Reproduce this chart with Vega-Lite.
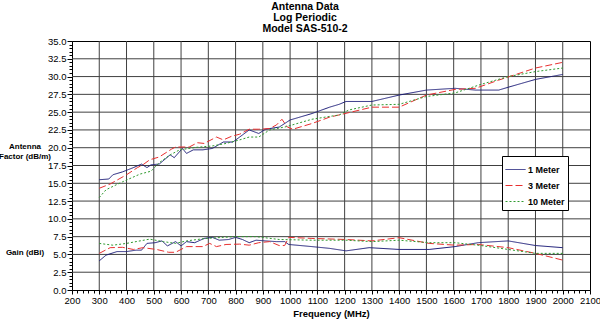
{
  "$schema": "https://vega.github.io/schema/vega-lite/v6.json",
  "width": 518,
  "height": 249,
  "autosize": {"type": "none"},
  "padding": {"left": 72, "top": 41, "right": 10, "bottom": 30},
  "background": "white",
  "title": {
    "text": ["Antenna Data", "Log Periodic", "Model SAS-510-2"],
    "font": "Liberation Sans",
    "fontSize": 10.5,
    "fontWeight": "bold",
    "color": "black",
    "lineHeight": 11,
    "anchor": "middle",
    "dx": -26,
    "offset": 2
  },
  "config": {
    "font": "Liberation Sans",
    "view": {"stroke": "black", "strokeWidth": 1},
    "axis": {
      "labelFont": "Liberation Sans",
      "labelFontSize": 9.5,
      "labelColor": "black",
      "domainColor": "black",
      "tickColor": "black",
      "titleFont": "Liberation Sans",
      "titleFontSize": 9.5,
      "titleFontWeight": "bold",
      "titleColor": "black"
    },
    "legend": {
      "orient": "none",
      "legendX": 430,
      "legendY": 115,
      "padding": 3,
      "strokeColor": "black",
      "fillColor": "white",
      "symbolType": "stroke",
      "symbolSize": 400,
      "symbolStrokeWidth": 1,
      "rowPadding": -6,
      "labelFont": "Liberation Sans",
      "labelFontSize": 9,
      "labelFontWeight": "bold",
      "labelColor": "black",
      "labelOffset": 2
    }
  },
  "layer": [
    {
      "description": "Vertical grid lines at every 100 MHz, spanning the full 0 to 35 range.",
      "data": {
        "values": [
          {"f": 300}, {"f": 400}, {"f": 500}, {"f": 600}, {"f": 700}, {"f": 800},
          {"f": 900}, {"f": 1000}, {"f": 1100}, {"f": 1200}, {"f": 1300}, {"f": 1400},
          {"f": 1500}, {"f": 1600}, {"f": 1700}, {"f": 1800}, {"f": 1900}, {"f": 2000}
        ]
      },
      "mark": {"type": "rule", "color": "#404040", "strokeWidth": 1},
      "encoding": {
        "x": {
          "field": "f",
          "type": "quantitative",
          "scale": {"domain": [200, 2100], "nice": false, "zero": false},
          "axis": {
            "title": "Frequency (MHz)",
            "values": [200,220,240,260,280,300,320,340,360,380,400,420,440,460,480,500,520,540,560,580,600,620,640,660,680,700,720,740,760,780,800,820,840,860,880,900,920,940,960,980,1000,1020,1040,1060,1080,1100,1120,1140,1160,1180,1200,1220,1240,1260,1280,1300,1320,1340,1360,1380,1400,1420,1440,1460,1480,1500,1520,1540,1560,1580,1600,1620,1640,1660,1680,1700,1720,1740,1760,1780,1800,1820,1840,1860,1880,1900,1920,1940,1960,1980,2000,2020,2040,2060,2080,2100],
            "labelExpr": "datum.value % 100 === 0 ? datum.value : ''",
            "labelPadding": 1,
            "labelFlush": false,
            "labelOverlap": false,
            "tickSize": {"condition": {"test": "datum.value % 100 === 0", "value": 4}, "value": 3},
            "grid": false,
            "titlePadding": 4
          }
        },
        "y": {
          "datum": 0,
          "type": "quantitative",
          "scale": {"domain": [0, 35], "nice": false},
          "axis": {
            "title": null,
            "values": [0,0.5,1,1.5,2,2.5,3,3.5,4,4.5,5,5.5,6,6.5,7,7.5,8,8.5,9,9.5,10,10.5,11,11.5,12,12.5,13,13.5,14,14.5,15,15.5,16,16.5,17,17.5,18,18.5,19,19.5,20,20.5,21,21.5,22,22.5,23,23.5,24,24.5,25,25.5,26,26.5,27,27.5,28,28.5,29,29.5,30,30.5,31,31.5,32,32.5,33,33.5,34,34.5,35],
            "labelExpr": "datum.value % 2.5 === 0 ? format(datum.value, '.1f') : ''",
            "labelPadding": 1,
            "labelFlush": false,
            "labelOverlap": false,
            "tickSize": {"condition": {"test": "datum.value % 2.5 === 0", "value": 5}, "value": 3},
            "grid": false
          }
        },
        "y2": {"datum": 35}
      }
    },
    {
      "description": "Horizontal grid lines at every 2.5 units, spanning 200 to 2100 MHz.",
      "data": {
        "values": [
          {"v": 2.5}, {"v": 5}, {"v": 7.5}, {"v": 10}, {"v": 12.5}, {"v": 15}, {"v": 17.5},
          {"v": 20}, {"v": 22.5}, {"v": 25}, {"v": 27.5}, {"v": 30}, {"v": 32.5}
        ]
      },
      "mark": {"type": "rule", "color": "#404040", "strokeWidth": 1},
      "encoding": {
        "x": {
          "datum": 200,
          "type": "quantitative",
          "scale": {"domain": [200, 2100], "nice": false, "zero": false},
          "axis": {
            "title": "Frequency (MHz)",
            "values": [200,220,240,260,280,300,320,340,360,380,400,420,440,460,480,500,520,540,560,580,600,620,640,660,680,700,720,740,760,780,800,820,840,860,880,900,920,940,960,980,1000,1020,1040,1060,1080,1100,1120,1140,1160,1180,1200,1220,1240,1260,1280,1300,1320,1340,1360,1380,1400,1420,1440,1460,1480,1500,1520,1540,1560,1580,1600,1620,1640,1660,1680,1700,1720,1740,1760,1780,1800,1820,1840,1860,1880,1900,1920,1940,1960,1980,2000,2020,2040,2060,2080,2100],
            "labelExpr": "datum.value % 100 === 0 ? datum.value : ''",
            "labelPadding": 1,
            "labelFlush": false,
            "labelOverlap": false,
            "tickSize": {"condition": {"test": "datum.value % 100 === 0", "value": 4}, "value": 3},
            "grid": false,
            "titlePadding": 4
          }
        },
        "x2": {"datum": 2100},
        "y": {
          "field": "v",
          "type": "quantitative",
          "scale": {"domain": [0, 35], "nice": false},
          "axis": {
            "title": null,
            "values": [0,0.5,1,1.5,2,2.5,3,3.5,4,4.5,5,5.5,6,6.5,7,7.5,8,8.5,9,9.5,10,10.5,11,11.5,12,12.5,13,13.5,14,14.5,15,15.5,16,16.5,17,17.5,18,18.5,19,19.5,20,20.5,21,21.5,22,22.5,23,23.5,24,24.5,25,25.5,26,26.5,27,27.5,28,28.5,29,29.5,30,30.5,31,31.5,32,32.5,33,33.5,34,34.5,35],
            "labelExpr": "datum.value % 2.5 === 0 ? format(datum.value, '.1f') : ''",
            "labelPadding": 1,
            "labelFlush": false,
            "labelOverlap": false,
            "tickSize": {"condition": {"test": "datum.value % 2.5 === 0", "value": 5}, "value": 3},
            "grid": false
          }
        }
      }
    },
    {
      "data": {
        "values": [
          {"s": "1 Meter", "q": "af", "f": 300, "v": 15.5},
          {"s": "1 Meter", "q": "af", "f": 335, "v": 15.6},
          {"s": "1 Meter", "q": "af", "f": 350, "v": 16.2},
          {"s": "1 Meter", "q": "af", "f": 385, "v": 16.6},
          {"s": "1 Meter", "q": "af", "f": 425, "v": 17.2},
          {"s": "1 Meter", "q": "af", "f": 455, "v": 17.7},
          {"s": "1 Meter", "q": "af", "f": 475, "v": 17.2},
          {"s": "1 Meter", "q": "af", "f": 490, "v": 17.6},
          {"s": "1 Meter", "q": "af", "f": 520, "v": 17.7},
          {"s": "1 Meter", "q": "af", "f": 560, "v": 19.0},
          {"s": "1 Meter", "q": "af", "f": 575, "v": 18.6},
          {"s": "1 Meter", "q": "af", "f": 605, "v": 19.9},
          {"s": "1 Meter", "q": "af", "f": 620, "v": 19.2},
          {"s": "1 Meter", "q": "af", "f": 645, "v": 19.7},
          {"s": "1 Meter", "q": "af", "f": 680, "v": 19.7},
          {"s": "1 Meter", "q": "af", "f": 715, "v": 19.9},
          {"s": "1 Meter", "q": "af", "f": 755, "v": 20.8},
          {"s": "1 Meter", "q": "af", "f": 790, "v": 20.8},
          {"s": "1 Meter", "q": "af", "f": 815, "v": 21.5},
          {"s": "1 Meter", "q": "af", "f": 850, "v": 22.5},
          {"s": "1 Meter", "q": "af", "f": 885, "v": 22.0},
          {"s": "1 Meter", "q": "af", "f": 910, "v": 22.6},
          {"s": "1 Meter", "q": "af", "f": 960, "v": 22.9},
          {"s": "1 Meter", "q": "af", "f": 1000, "v": 23.9},
          {"s": "1 Meter", "q": "af", "f": 1080, "v": 24.8},
          {"s": "1 Meter", "q": "af", "f": 1145, "v": 25.7},
          {"s": "1 Meter", "q": "af", "f": 1180, "v": 26.1},
          {"s": "1 Meter", "q": "af", "f": 1205, "v": 26.5},
          {"s": "1 Meter", "q": "af", "f": 1300, "v": 26.5},
          {"s": "1 Meter", "q": "af", "f": 1400, "v": 27.4},
          {"s": "1 Meter", "q": "af", "f": 1500, "v": 28.1},
          {"s": "1 Meter", "q": "af", "f": 1605, "v": 28.35},
          {"s": "1 Meter", "q": "af", "f": 1680, "v": 28.1},
          {"s": "1 Meter", "q": "af", "f": 1765, "v": 28.1},
          {"s": "1 Meter", "q": "af", "f": 1800, "v": 28.5},
          {"s": "1 Meter", "q": "af", "f": 1900, "v": 29.6},
          {"s": "1 Meter", "q": "af", "f": 2000, "v": 30.3},

          {"s": "3 Meter", "q": "af", "f": 300, "v": 14.3},
          {"s": "3 Meter", "q": "af", "f": 340, "v": 14.9},
          {"s": "3 Meter", "q": "af", "f": 400, "v": 16.2},
          {"s": "3 Meter", "q": "af", "f": 440, "v": 17.2},
          {"s": "3 Meter", "q": "af", "f": 460, "v": 17.6},
          {"s": "3 Meter", "q": "af", "f": 485, "v": 18.3},
          {"s": "3 Meter", "q": "af", "f": 520, "v": 18.7},
          {"s": "3 Meter", "q": "af", "f": 565, "v": 19.8},
          {"s": "3 Meter", "q": "af", "f": 580, "v": 20.1},
          {"s": "3 Meter", "q": "af", "f": 630, "v": 20.1},
          {"s": "3 Meter", "q": "af", "f": 660, "v": 20.7},
          {"s": "3 Meter", "q": "af", "f": 685, "v": 20.6},
          {"s": "3 Meter", "q": "af", "f": 710, "v": 21.1},
          {"s": "3 Meter", "q": "af", "f": 730, "v": 21.5},
          {"s": "3 Meter", "q": "af", "f": 755, "v": 21.1},
          {"s": "3 Meter", "q": "af", "f": 785, "v": 21.6},
          {"s": "3 Meter", "q": "af", "f": 815, "v": 21.9},
          {"s": "3 Meter", "q": "af", "f": 850, "v": 22.6},
          {"s": "3 Meter", "q": "af", "f": 885, "v": 22.6},
          {"s": "3 Meter", "q": "af", "f": 925, "v": 22.7},
          {"s": "3 Meter", "q": "af", "f": 950, "v": 23.2},
          {"s": "3 Meter", "q": "af", "f": 970, "v": 24.0},
          {"s": "3 Meter", "q": "af", "f": 990, "v": 22.9},
          {"s": "3 Meter", "q": "af", "f": 1010, "v": 22.6},
          {"s": "3 Meter", "q": "af", "f": 1080, "v": 23.4},
          {"s": "3 Meter", "q": "af", "f": 1145, "v": 24.3},
          {"s": "3 Meter", "q": "af", "f": 1190, "v": 24.7},
          {"s": "3 Meter", "q": "af", "f": 1300, "v": 25.7},
          {"s": "3 Meter", "q": "af", "f": 1400, "v": 25.7},
          {"s": "3 Meter", "q": "af", "f": 1500, "v": 27.4},
          {"s": "3 Meter", "q": "af", "f": 1605, "v": 28.2},
          {"s": "3 Meter", "q": "af", "f": 1680, "v": 28.35},
          {"s": "3 Meter", "q": "af", "f": 1765, "v": 29.5},
          {"s": "3 Meter", "q": "af", "f": 1900, "v": 31.2},
          {"s": "3 Meter", "q": "af", "f": 2000, "v": 32.0},

          {"s": "10 Meter", "q": "af", "f": 300, "v": 13.0},
          {"s": "10 Meter", "q": "af", "f": 325, "v": 14.1},
          {"s": "10 Meter", "q": "af", "f": 385, "v": 15.2},
          {"s": "10 Meter", "q": "af", "f": 450, "v": 16.3},
          {"s": "10 Meter", "q": "af", "f": 490, "v": 16.7},
          {"s": "10 Meter", "q": "af", "f": 520, "v": 17.9},
          {"s": "10 Meter", "q": "af", "f": 560, "v": 19.0},
          {"s": "10 Meter", "q": "af", "f": 595, "v": 19.7},
          {"s": "10 Meter", "q": "af", "f": 655, "v": 20.05},
          {"s": "10 Meter", "q": "af", "f": 715, "v": 20.25},
          {"s": "10 Meter", "q": "af", "f": 765, "v": 20.6},
          {"s": "10 Meter", "q": "af", "f": 815, "v": 21.1},
          {"s": "10 Meter", "q": "af", "f": 850, "v": 21.5},
          {"s": "10 Meter", "q": "af", "f": 885, "v": 21.5},
          {"s": "10 Meter", "q": "af", "f": 925, "v": 22.5},
          {"s": "10 Meter", "q": "af", "f": 985, "v": 22.95},
          {"s": "10 Meter", "q": "af", "f": 1080, "v": 24.0},
          {"s": "10 Meter", "q": "af", "f": 1145, "v": 24.4},
          {"s": "10 Meter", "q": "af", "f": 1180, "v": 24.6},
          {"s": "10 Meter", "q": "af", "f": 1215, "v": 25.3},
          {"s": "10 Meter", "q": "af", "f": 1300, "v": 26.0},
          {"s": "10 Meter", "q": "af", "f": 1400, "v": 26.1},
          {"s": "10 Meter", "q": "af", "f": 1500, "v": 27.2},
          {"s": "10 Meter", "q": "af", "f": 1605, "v": 27.7},
          {"s": "10 Meter", "q": "af", "f": 1700, "v": 28.9},
          {"s": "10 Meter", "q": "af", "f": 1800, "v": 30.0},
          {"s": "10 Meter", "q": "af", "f": 1900, "v": 30.7},
          {"s": "10 Meter", "q": "af", "f": 2000, "v": 31.2},

          {"s": "1 Meter", "q": "gain", "f": 300, "v": 4.1},
          {"s": "1 Meter", "q": "gain", "f": 325, "v": 4.9},
          {"s": "1 Meter", "q": "gain", "f": 365, "v": 5.4},
          {"s": "1 Meter", "q": "gain", "f": 400, "v": 5.4},
          {"s": "1 Meter", "q": "gain", "f": 435, "v": 5.6},
          {"s": "1 Meter", "q": "gain", "f": 455, "v": 5.6},
          {"s": "1 Meter", "q": "gain", "f": 475, "v": 6.55},
          {"s": "1 Meter", "q": "gain", "f": 505, "v": 6.65},
          {"s": "1 Meter", "q": "gain", "f": 530, "v": 6.9},
          {"s": "1 Meter", "q": "gain", "f": 550, "v": 6.2},
          {"s": "1 Meter", "q": "gain", "f": 580, "v": 6.8},
          {"s": "1 Meter", "q": "gain", "f": 600, "v": 6.2},
          {"s": "1 Meter", "q": "gain", "f": 620, "v": 6.8},
          {"s": "1 Meter", "q": "gain", "f": 650, "v": 6.65},
          {"s": "1 Meter", "q": "gain", "f": 685, "v": 7.25},
          {"s": "1 Meter", "q": "gain", "f": 715, "v": 7.4},
          {"s": "1 Meter", "q": "gain", "f": 740, "v": 7.0},
          {"s": "1 Meter", "q": "gain", "f": 775, "v": 7.1},
          {"s": "1 Meter", "q": "gain", "f": 800, "v": 7.4},
          {"s": "1 Meter", "q": "gain", "f": 825, "v": 7.1},
          {"s": "1 Meter", "q": "gain", "f": 850, "v": 6.65},
          {"s": "1 Meter", "q": "gain", "f": 875, "v": 7.0},
          {"s": "1 Meter", "q": "gain", "f": 910, "v": 6.9},
          {"s": "1 Meter", "q": "gain", "f": 950, "v": 6.8},
          {"s": "1 Meter", "q": "gain", "f": 980, "v": 6.8},
          {"s": "1 Meter", "q": "gain", "f": 995, "v": 6.4},
          {"s": "1 Meter", "q": "gain", "f": 1080, "v": 6.1},
          {"s": "1 Meter", "q": "gain", "f": 1145, "v": 5.85},
          {"s": "1 Meter", "q": "gain", "f": 1205, "v": 5.5},
          {"s": "1 Meter", "q": "gain", "f": 1290, "v": 5.95},
          {"s": "1 Meter", "q": "gain", "f": 1400, "v": 5.7},
          {"s": "1 Meter", "q": "gain", "f": 1510, "v": 5.7},
          {"s": "1 Meter", "q": "gain", "f": 1605, "v": 6.1},
          {"s": "1 Meter", "q": "gain", "f": 1690, "v": 6.65},
          {"s": "1 Meter", "q": "gain", "f": 1800, "v": 6.9},
          {"s": "1 Meter", "q": "gain", "f": 1900, "v": 6.25},
          {"s": "1 Meter", "q": "gain", "f": 2000, "v": 5.95},

          {"s": "3 Meter", "q": "gain", "f": 300, "v": 5.15},
          {"s": "3 Meter", "q": "gain", "f": 340, "v": 5.95},
          {"s": "3 Meter", "q": "gain", "f": 385, "v": 6.0},
          {"s": "3 Meter", "q": "gain", "f": 425, "v": 5.7},
          {"s": "3 Meter", "q": "gain", "f": 460, "v": 5.95},
          {"s": "3 Meter", "q": "gain", "f": 510, "v": 5.7},
          {"s": "3 Meter", "q": "gain", "f": 555, "v": 5.3},
          {"s": "3 Meter", "q": "gain", "f": 580, "v": 5.3},
          {"s": "3 Meter", "q": "gain", "f": 620, "v": 6.1},
          {"s": "3 Meter", "q": "gain", "f": 680, "v": 6.1},
          {"s": "3 Meter", "q": "gain", "f": 705, "v": 6.55},
          {"s": "3 Meter", "q": "gain", "f": 730, "v": 6.1},
          {"s": "3 Meter", "q": "gain", "f": 765, "v": 6.4},
          {"s": "3 Meter", "q": "gain", "f": 815, "v": 6.45},
          {"s": "3 Meter", "q": "gain", "f": 850, "v": 6.3},
          {"s": "3 Meter", "q": "gain", "f": 885, "v": 6.65},
          {"s": "3 Meter", "q": "gain", "f": 925, "v": 6.8},
          {"s": "3 Meter", "q": "gain", "f": 960, "v": 6.25},
          {"s": "3 Meter", "q": "gain", "f": 980, "v": 6.25},
          {"s": "3 Meter", "q": "gain", "f": 995, "v": 7.4},
          {"s": "3 Meter", "q": "gain", "f": 1080, "v": 7.25},
          {"s": "3 Meter", "q": "gain", "f": 1205, "v": 7.1},
          {"s": "3 Meter", "q": "gain", "f": 1300, "v": 6.9},
          {"s": "3 Meter", "q": "gain", "f": 1400, "v": 7.35},
          {"s": "3 Meter", "q": "gain", "f": 1510, "v": 6.55},
          {"s": "3 Meter", "q": "gain", "f": 1605, "v": 6.3},
          {"s": "3 Meter", "q": "gain", "f": 1690, "v": 6.4},
          {"s": "3 Meter", "q": "gain", "f": 1800, "v": 5.95},
          {"s": "3 Meter", "q": "gain", "f": 1900, "v": 5.15},
          {"s": "3 Meter", "q": "gain", "f": 2000, "v": 4.2},

          {"s": "10 Meter", "q": "gain", "f": 300, "v": 6.55},
          {"s": "10 Meter", "q": "gain", "f": 350, "v": 6.3},
          {"s": "10 Meter", "q": "gain", "f": 400, "v": 6.55},
          {"s": "10 Meter", "q": "gain", "f": 435, "v": 6.8},
          {"s": "10 Meter", "q": "gain", "f": 485, "v": 7.15},
          {"s": "10 Meter", "q": "gain", "f": 535, "v": 6.8},
          {"s": "10 Meter", "q": "gain", "f": 580, "v": 6.55},
          {"s": "10 Meter", "q": "gain", "f": 620, "v": 6.9},
          {"s": "10 Meter", "q": "gain", "f": 690, "v": 7.25},
          {"s": "10 Meter", "q": "gain", "f": 755, "v": 7.4},
          {"s": "10 Meter", "q": "gain", "f": 800, "v": 7.5},
          {"s": "10 Meter", "q": "gain", "f": 875, "v": 7.5},
          {"s": "10 Meter", "q": "gain", "f": 960, "v": 7.1},
          {"s": "10 Meter", "q": "gain", "f": 1080, "v": 7.0},
          {"s": "10 Meter", "q": "gain", "f": 1205, "v": 7.0},
          {"s": "10 Meter", "q": "gain", "f": 1300, "v": 6.8},
          {"s": "10 Meter", "q": "gain", "f": 1400, "v": 7.0},
          {"s": "10 Meter", "q": "gain", "f": 1510, "v": 6.65},
          {"s": "10 Meter", "q": "gain", "f": 1605, "v": 6.65},
          {"s": "10 Meter", "q": "gain", "f": 1700, "v": 6.25},
          {"s": "10 Meter", "q": "gain", "f": 1800, "v": 5.7},
          {"s": "10 Meter", "q": "gain", "f": 1900, "v": 5.15},
          {"s": "10 Meter", "q": "gain", "f": 2000, "v": 5.15}
        ]
      },
      "mark": {"type": "line", "strokeWidth": 1, "interpolate": "linear"},
      "encoding": {
        "x": {
          "field": "f",
          "type": "quantitative",
          "scale": {"domain": [200, 2100], "nice": false, "zero": false},
          "axis": {
            "title": "Frequency (MHz)",
            "values": [200,220,240,260,280,300,320,340,360,380,400,420,440,460,480,500,520,540,560,580,600,620,640,660,680,700,720,740,760,780,800,820,840,860,880,900,920,940,960,980,1000,1020,1040,1060,1080,1100,1120,1140,1160,1180,1200,1220,1240,1260,1280,1300,1320,1340,1360,1380,1400,1420,1440,1460,1480,1500,1520,1540,1560,1580,1600,1620,1640,1660,1680,1700,1720,1740,1760,1780,1800,1820,1840,1860,1880,1900,1920,1940,1960,1980,2000,2020,2040,2060,2080,2100],
            "labelExpr": "datum.value % 100 === 0 ? datum.value : ''",
            "labelPadding": 1,
            "labelFlush": false,
            "labelOverlap": false,
            "tickSize": {"condition": {"test": "datum.value % 100 === 0", "value": 4}, "value": 3},
            "grid": false,
            "titlePadding": 4
          }
        },
        "y": {
          "field": "v",
          "type": "quantitative",
          "scale": {"domain": [0, 35], "nice": false},
          "axis": {
            "title": null,
            "values": [0,0.5,1,1.5,2,2.5,3,3.5,4,4.5,5,5.5,6,6.5,7,7.5,8,8.5,9,9.5,10,10.5,11,11.5,12,12.5,13,13.5,14,14.5,15,15.5,16,16.5,17,17.5,18,18.5,19,19.5,20,20.5,21,21.5,22,22.5,23,23.5,24,24.5,25,25.5,26,26.5,27,27.5,28,28.5,29,29.5,30,30.5,31,31.5,32,32.5,33,33.5,34,34.5,35],
            "labelExpr": "datum.value % 2.5 === 0 ? format(datum.value, '.1f') : ''",
            "labelPadding": 1,
            "labelFlush": false,
            "labelOverlap": false,
            "tickSize": {"condition": {"test": "datum.value % 2.5 === 0", "value": 5}, "value": 3},
            "grid": false
          }
        },
        "color": {
          "field": "s",
          "type": "nominal",
          "scale": {"domain": ["1 Meter", "3 Meter", "10 Meter"], "range": ["#1c1c78", "#e83030", "#2f9a2f"]},
          "legend": {"title": null}
        },
        "strokeDash": {
          "field": "s",
          "type": "nominal",
          "scale": {"domain": ["1 Meter", "3 Meter", "10 Meter"], "range": [[1, 0], [7, 3], [2, 2]]},
          "legend": {"title": null}
        },
        "detail": {"field": "q", "type": "nominal"}
      }
    },
    {
      "data": {
        "values": [
          {"label": "Antenna\nFactor (dB/m)", "v": 20},
          {"label": "Gain (dBi)", "v": 5}
        ]
      },
      "mark": {
        "type": "text",
        "font": "Liberation Sans",
        "fontSize": 8,
        "fontWeight": "bold",
        "color": "black",
        "align": "center",
        "baseline": "top",
        "dy": -5,
        "lineBreak": "\n",
        "lineHeight": 10
      },
      "encoding": {
        "x": {"value": -47},
        "y": {
          "field": "v",
          "type": "quantitative",
          "scale": {"domain": [0, 35], "nice": false},
          "axis": {
            "title": null,
            "values": [0,0.5,1,1.5,2,2.5,3,3.5,4,4.5,5,5.5,6,6.5,7,7.5,8,8.5,9,9.5,10,10.5,11,11.5,12,12.5,13,13.5,14,14.5,15,15.5,16,16.5,17,17.5,18,18.5,19,19.5,20,20.5,21,21.5,22,22.5,23,23.5,24,24.5,25,25.5,26,26.5,27,27.5,28,28.5,29,29.5,30,30.5,31,31.5,32,32.5,33,33.5,34,34.5,35],
            "labelExpr": "datum.value % 2.5 === 0 ? format(datum.value, '.1f') : ''",
            "labelPadding": 1,
            "labelFlush": false,
            "labelOverlap": false,
            "tickSize": {"condition": {"test": "datum.value % 2.5 === 0", "value": 5}, "value": 3},
            "grid": false
          }
        },
        "text": {"field": "label"}
      }
    }
  ]
}
